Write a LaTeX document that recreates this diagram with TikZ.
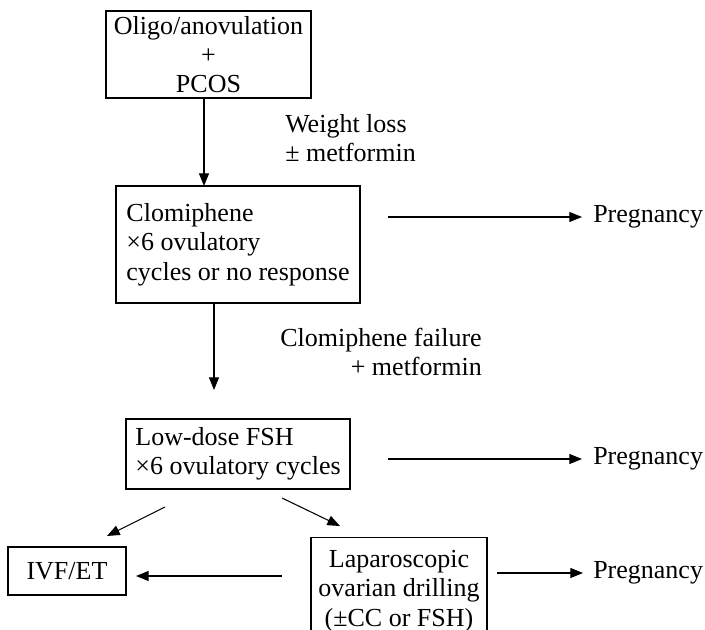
\documentclass[tikz,border=0pt]{standalone}
\usepackage{fontspec}
\setmainfont{Liberation Serif}
\usetikzlibrary{arrows.meta}
\begin{document}
\begin{tikzpicture}[x=0.75pt,y=-0.75pt,
  every node/.style={font=\fontsize{19.5pt}{22pt}\selectfont},
  box/.style={draw,line width=0.8pt,inner sep=0pt},
  lbl/.style={inner sep=0pt},
  preg/.style={inner ysep=0pt,inner xsep=0pt,anchor=west},
  arr/.style={line width=0.8pt,-{Triangle[length=9.5pt,width=7.5pt]}}]
\useasboundingbox (0,0) rectangle (705,630);
\clip (0,0) rectangle (705,630);
% boxes
\node[box,minimum width=153.75pt,minimum height=65.25pt,align=center] (b1) at (208.5,54.5)
  {Oligo/anovulation\\+\\PCOS};
\node[box,minimum width=183pt,minimum height=87.75pt,align=left] (b2) at (238,244.5)
  {Clomiphene\\×6 ovulatory\\cycles or no response};
\node[box,minimum width=168pt,minimum height=52.5pt,align=left] (b3) at (238,454)
  {Low-dose FSH\\×6 ovulatory cycles};
\node[box,minimum width=88.5pt,minimum height=36pt] (ivf) at (67,571) {IVF/ET};
\node[box,minimum width=132pt,minimum height=80pt,align=center] (lap) at (399,591)
  {Laparoscopic\\ovarian drilling\\(±CC or FSH)};
% labels
\node[lbl,anchor=west,align=left] (wl) at (285,138) {Weight loss\\± metformin};
\node[lbl,anchor=east,align=right] (cf) at (482,352) {Clomiphene failure\\+ metformin};
% pregnancy
\node[preg] (p1) at (593,217) {Pregnancy};
\node[preg] (p2) at (593,459) {Pregnancy};
\node[preg] (p3) at (593,573) {Pregnancy};
% coordinates
\coordinate (a1s) at (204,98);
\coordinate (a1e) at (204,186);
\coordinate (a2s) at (214,303);
\coordinate (a2e) at (214,390);
\coordinate (s1) at (388,217);
\coordinate (e1) at (582,217);
\coordinate (s2) at (388,459);
\coordinate (e2) at (582,459);
\coordinate (s3) at (497,573);
\coordinate (e3) at (583,573);
\coordinate (d1s) at (165,507);
\coordinate (d1e) at (107,536);
\coordinate (d2s) at (282,498);
\coordinate (d2e) at (340,526);
\coordinate (hs) at (282,576);
\coordinate (he) at (136,576);
% arrows
\draw[arr] (a1s) -- (a1e);
\draw[arr] (a2s) -- (a2e);
\draw[arr] (s1) -- (e1);
\draw[arr] (s2) -- (e2);
\draw[arr] (s3) -- (e3);
\draw[arr] (d1s) -- (d1e);
\draw[arr] (d2s) -- (d2e);
\draw[arr] (hs) -- (he);
\end{tikzpicture}
\end{document}
